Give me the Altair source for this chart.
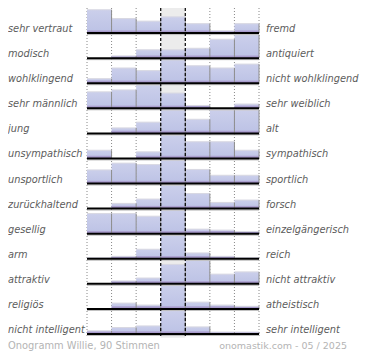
import altair as alt
import pandas as pd

left_labels = ["sehr vertraut", "modisch", "wohlklingend", "sehr männlich", "\u00a0jung",
               "unsympathisch", "unsportlich", "zurückhaltend", "gesellig", "arm",
               "attraktiv", "religiös", "nicht intelligent"]
right_labels = ["fremd", "antiquiert", "nicht wohlklingend", "sehr weiblich", "alt",
                "sympathisch", "sportlich", "forsch", "einzelgängerisch", "reich",
                "nicht attraktiv", "atheistisch", "sehr intelligent"]
ratings = [1, 2, 3, 4, 5, 6, 7]
# relative vote frequencies per rating
votes = [
    [24, 15, 12.3, 16.7, 9.7, 2.3, 9.7],
    [0, 2.3, 8.7, 8.7, 10.3, 19.7, 24.3],
    [4.7, 15.7, 13, 24, 18, 15.7, 19.7],
    [17.3, 19.3, 24.5, 16, 3, 0, 4.5],
    [0, 5.7, 11.7, 24.3, 14.7, 24.3, 24.3],
    [8.7, 0, 7, 24.7, 17.7, 17.7, 8.7],
    [14, 21, 19.5, 24, 14.5, 8.5, 8.5],
    [0, 5.3, 9.7, 23.7, 15.3, 6.3, 8.7],
    [20.7, 20.7, 18, 24, 4.7, 3.7, 2.3],
    [1.3, 2.5, 9.8, 24, 6, 2.5, 1.2],
    [0, 3, 6, 20, 24, 10, 12.3],
    [0, 6, 4, 24, 7, 4, 2.7],
    [3.3, 6.7, 8.3, 24, 7.3, 2, 2],
]
footer_left = "Onogramm Willie, 90 Stimmen"
footer_right = "onomastik.com - 05 / 2025"

n_rows = len(left_labels)
recs = []
for i, vals in enumerate(votes):
    for r, v in zip(ratings, vals):
        recs.append({"row": i, "rating": r, "value": v})
bars_df = pd.DataFrame(recs)
labels_df = pd.DataFrame({"row": list(range(n_rows)), "left": left_labels, "right": right_labels})

mid = ratings[len(ratings) // 2]
bounds = [r - 0.5 for r in ratings] + [ratings[-1] + 0.5]
grid_df = pd.DataFrame({"xb": bounds})
grid_df["kind"] = ["dash" if b in (mid - 0.5, mid + 0.5) else "dot" for b in bounds]
mid_df = pd.DataFrame({"m": [mid]})

W, H = 172, 326
PAD_L = 79
FONT = "DejaVu Sans"

xs = alt.Scale(domain=[ratings[0] - 0.5, ratings[-1] + 0.5], nice=False, zero=False)
ys = alt.Scale(domain=[0, n_rows], reverse=True, nice=False, zero=False)

base_bars = alt.Chart(bars_df).transform_filter("datum.value > 0").transform_joinaggregate(
    rowmax="max(value)", groupby=["row"]
).transform_calculate(
    share="datum.value / datum.rowmax",
    base="datum.row + 1",
    top="datum.row + 1 - datum.value / datum.rowmax * 0.93",
    band="datum.row + 1 - min(datum.value / datum.rowmax * 0.93, 0.11)",
    xl="datum.rating - 0.5",
    xr="datum.rating + 0.5",
)

background = alt.Chart(mid_df).transform_calculate(
    x1="datum.m - 0.5", x2="datum.m + 0.5", y1="0", y2=str(n_rows + 0.15)
).mark_rect(color="#ececec").encode(
    x=alt.X("x1:Q", scale=xs, axis=None), x2="x2:Q",
    y=alt.Y("y1:Q", scale=ys, axis=None), y2="y2:Q",
)

dotted = alt.Chart(grid_df).transform_filter("datum.kind == 'dot'").transform_calculate(
    y1="0", y2=str(n_rows + 0.15)
).mark_rule(color="#888888", strokeDash=[1, 2], strokeWidth=1).encode(
    x=alt.X("xb:Q", scale=xs, axis=None),
    y=alt.Y("y1:Q", scale=ys, axis=None), y2="y2:Q",
)

bar_fill = alt.Gradient(
    gradient="linear",
    stops=[alt.GradientStop(offset=0, color="#cbcfeb"), alt.GradientStop(offset=1, color="#bcc2e5")],
    x1=0, x2=0, y1=0, y2=1,
)
band_fill = alt.Gradient(
    gradient="linear",
    stops=[alt.GradientStop(offset=0, color="#b2a9d6"), alt.GradientStop(offset=1, color="#9a8abf")],
    x1=0, x2=0, y1=0, y2=1,
)

bars = base_bars.mark_rect(color=bar_fill).encode(
    x=alt.X("xl:Q", scale=xs, axis=None), x2="xr:Q",
    y=alt.Y("top:Q", scale=ys, axis=None), y2="base:Q",
)
bands = base_bars.mark_rect(color=band_fill).encode(
    x=alt.X("xl:Q", scale=xs, axis=None), x2="xr:Q",
    y=alt.Y("band:Q", scale=ys, axis=None), y2="base:Q",
)
top_edges = base_bars.mark_rule(color="#d8d8e2", strokeWidth=1).encode(
    x=alt.X("xl:Q", scale=xs, axis=None), x2="xr:Q",
    y=alt.Y("top:Q", scale=ys, axis=None),
)
side_edges = base_bars.mark_rule(color="#8c8c8c", strokeWidth=1).encode(
    x=alt.X("xr:Q", scale=xs, axis=None),
    y=alt.Y("top:Q", scale=ys, axis=None), y2="base:Q",
)

dashed = alt.Chart(grid_df).transform_filter("datum.kind == 'dash'").transform_calculate(
    y1="0", y2=str(n_rows + 0.15)
).mark_rule(color="#000000", strokeDash=[3, 2], strokeWidth=1.2).encode(
    x=alt.X("xb:Q", scale=xs, axis=None),
    y=alt.Y("y1:Q", scale=ys, axis=None), y2="y2:Q",
)

baselines = alt.Chart(labels_df).transform_calculate(
    yb="datum.row + 1", x1=str(ratings[0] - 0.5), x2=str(ratings[-1] + 0.5)
).mark_rule(color="#000000", strokeWidth=2).encode(
    x=alt.X("x1:Q", scale=xs, axis=None), x2="x2:Q",
    y=alt.Y("yb:Q", scale=ys, axis=None),
)
shadows = alt.Chart(labels_df).transform_calculate(
    yb="datum.row + 1.06", x1=str(ratings[0] - 0.5), x2=str(ratings[-1] + 0.5)
).mark_rule(color="#bdbdbd", strokeWidth=1).encode(
    x=alt.X("x1:Q", scale=xs, axis=None), x2="x2:Q",
    y=alt.Y("yb:Q", scale=ys, axis=None),
)

lab_base = alt.Chart(labels_df).transform_calculate(ty="datum.row + 1 - 0.04")
left_text = lab_base.mark_text(
    align="left", baseline="alphabetic", font=FONT, fontStyle="italic", fontSize=9.8, color="#5c5c5c"
).encode(x=alt.value(-PAD_L), y=alt.Y("ty:Q", scale=ys, axis=None), text="left:N")
right_text = lab_base.mark_text(
    align="left", baseline="alphabetic", font=FONT, fontStyle="italic", fontSize=9.8, color="#5c5c5c"
).encode(x=alt.value(W + 7), y=alt.Y("ty:Q", scale=ys, axis=None), text="right:N")

foot_df = pd.DataFrame({"l": [footer_left], "r": [footer_right]})
foot_l = alt.Chart(foot_df).mark_text(
    align="left", baseline="alphabetic", font=FONT, fontSize=9.9, color="#b4b4b4"
).encode(x=alt.value(-PAD_L), y=alt.value(H + 15), text="l:N")
foot_r = alt.Chart(foot_df).mark_text(
    align="right", baseline="alphabetic", font=FONT, fontSize=9.5, color="#b4b4b4"
).encode(x=alt.value(260), y=alt.value(H + 15), text="r:N")

chart = alt.layer(
    background, dotted, bars, bands, top_edges, side_edges, shadows, baselines, dashed,
    left_text, right_text, foot_l, foot_r
).properties(
    width=W, height=H,
    autosize="none",
    padding={"left": PAD_L, "top": 0, "right": 354 - PAD_L - W, "bottom": 18},
).configure_view(strokeWidth=0)

chart.save("out.html", embed_options={"renderer": "svg", "actions": False})
